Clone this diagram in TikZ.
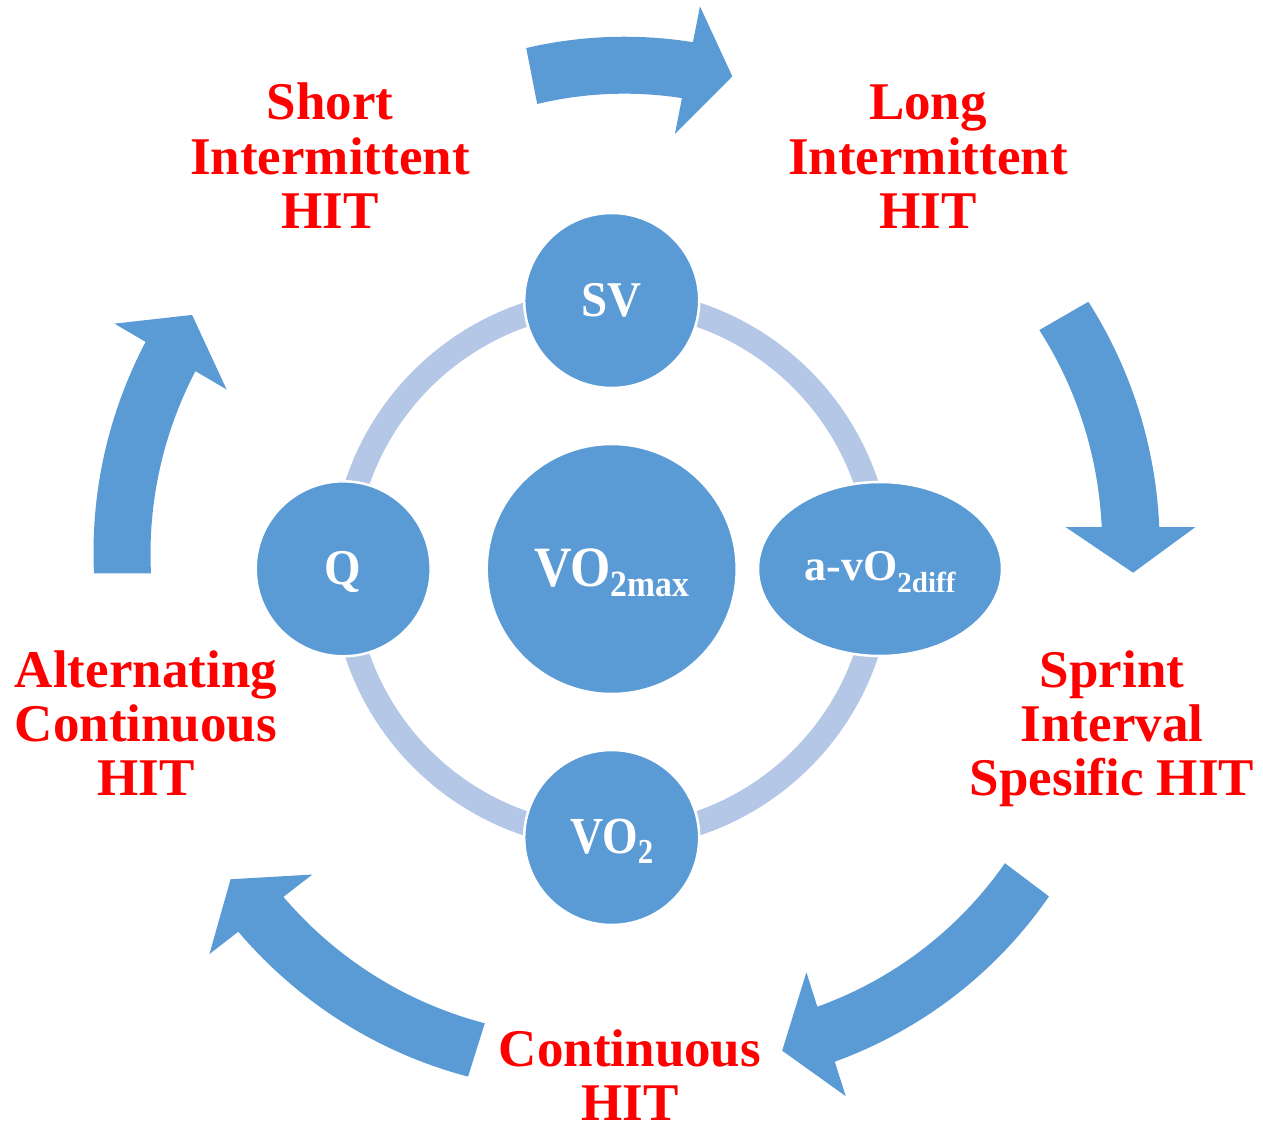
\documentclass[tikz,border=0pt]{standalone}
\usepackage{fontspec}
\setmainfont{Liberation Serif}
\usepackage{graphicx}
\usetikzlibrary{shapes.geometric}

\definecolor{cycleblue}{HTML}{5B9BD5}
\definecolor{ringblue}{HTML}{B4C7E7}

% lowered, smaller subscript: #1 drop, #2 size, #3 text
\newcommand\dropsub[3]{\raisebox{-#1pt}{\fontsize{#2}{#2}\selectfont #3}}

% curved block arrow on a slowly widening spiral
% #1,#2 centre; #3 tail angle; #4 head-base angle;
% #5,#6 inner/outer radius at tail; #7,#8 inner/outer radius at head base; #9 tip angle
\newcommand\cyclearrow[9]{%
  \fill[cyclefill, shift={(#1,#2)}]
    plot[domain=#3:#4, samples=40] (\x:{#5+(#7-(#5))*(\x-(#3))/((#4)-(#3))})
    -- (#4:{(#7+#8)/2-65})
    -- (#9:{(#7+#8)/2+5})
    -- (#4:{(#7+#8)/2+65})
    -- plot[domain=#4:#3, samples=40] (\x:{#6+(#8-(#6))*(\x-(#3))/((#4)-(#3))})
    -- cycle;}

\begin{document}
\begin{tikzpicture}[x=1pt, y=-1pt,
  cyclefill/.style={fill=cycleblue},
  blob/.style={fill=cycleblue, draw=white, line width=2.5pt, inner sep=0pt,
               text=white, font=\bfseries},
  sat/.style={blob, circle, minimum size=175pt},
  hub/.style={blob, circle, minimum size=250pt},
  oval/.style={blob, ellipse, minimum width=244pt, minimum height=174pt},
  lift/.style={text height=40pt, text depth=#1},
  stage/.style={text=red, font=\fontsize{53}{54}\selectfont\bfseries,
                align=center, inner sep=0pt, anchor=base}
]
\useasboundingbox (0,0) rectangle (1263,1126);

% ring linking the four satellites
\coordinate (hubc) at (611.7,569);
\draw[ringblue, line width=24pt] (hubc) circle[radius=268.5];

% central hub and satellites
\node[hub, lift=4.6pt] (vo2max) at (hubc)
  {\scalebox{0.91}[1]{\fontsize{57}{57}\selectfont VO\dropsub{10}{37}{2max}}};
\node[sat, lift=9pt] (sv) at (611.7,300.5)
  {\scalebox{0.94}[1]{\fontsize{50}{50}\selectfont SV}};
\node[sat, lift=9.6pt] (q) at (343.2,568.8)
  {\scalebox{0.94}[1]{\fontsize{50}{50}\selectfont Q}};
\node[sat, lift=8.4pt] (vo2) at (611.7,837.5)
  {\scalebox{0.88}[1]{\fontsize{52}{52}\selectfont VO\dropsub{10}{35}{2}}};
\node[oval, lift=16.6pt] (avo2) at (880,569)
  {\fontsize{44}{44}\selectfont a-vO\dropsub{12}{29}{2diff}};

% training forms around the cycle (placed by the baseline of the last line)
\node[stage] (short) at (330,228) {Short\\Intermittent\\HIT};
\node[stage] (long) at (928,228) {Long\\Intermittent\\HIT};
\node[stage] (sprint) at (1112,795) {Sprint\\Interval\\Spesific HIT};
\node[stage] (cont) at (630,1120) {Continuous\\HIT};
\node[stage] (alt) at (146,795) {Alternating\\Continuous\\HIT};

% clockwise arrows between the training forms
\cyclearrow{609}{470}{258.9}{281.1}{373}{430}{379}{436}{287.4}
\cyclearrow{698.2}{527}{330}{360}{393.9}{450.5}{403.5}{461.1}{366}
\cyclearrow{698.6}{632.4}{37}{72.4}{383.5}{438.7}{392.7}{450.4}{78.7}
\cyclearrow{601.4}{651.1}{107.4}{142.3}{390}{445.9}{401.9}{458.9}{148.4}
\cyclearrow{540}{573.3}{180}{210.4}{389}{446}{399.5}{457.3}{216.6}
\end{tikzpicture}
\end{document}
